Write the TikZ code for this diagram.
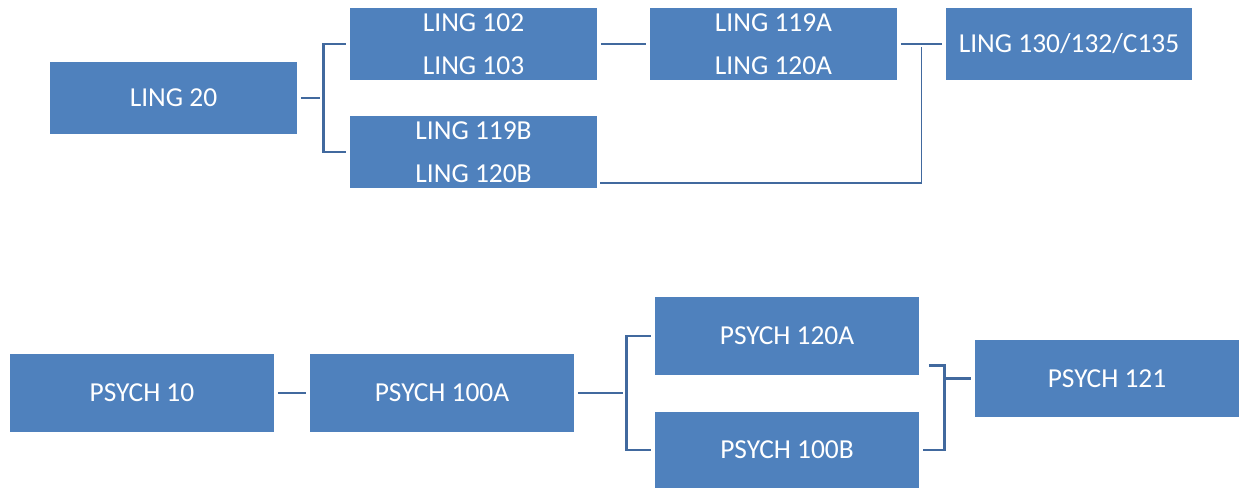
\documentclass[tikz,border=0pt]{standalone}
\usepackage{fontspec}
\setmainfont{Carlito}
\usepackage{xcolor}
\usepackage{tikz}
\usetikzlibrary{positioning,calc}

\definecolor{boxblue}{HTML}{4F81BD}
\definecolor{lineblue}{HTML}{41699E}

\begin{document}
\begin{tikzpicture}[x=0.02cm, y=-0.02cm,
    course/.style={fill=boxblue, text=white, minimum width=4.94cm, minimum height=1.44cm,
        inner sep=0pt, align=center, font=\fontsize{15.6}{24.5}\selectfont},
    psych/.style={course, minimum width=5.28cm, minimum height=1.56cm},
    link/.style={draw=lineblue, line width=1.6pt, shorten <=2pt, shorten >=2pt},
    thinlink/.style={draw=lineblue, line width=1.1pt}]
    \useasboundingbox (0,0) rectangle (1239,488);

    % Linguistics track
    \node[course] (ling20) at (173.5,98) {LING 20};
    \node[course] (ling102) at (473.5,44) {LING 102\\LING 103};
    \node[course] (ling119b) at (473.5,152) {LING 119B\\LING 120B};
    \node[course] (ling119a) at (773.5,44) {LING 119A\\LING 120A};
    \node[course, minimum width=4.92cm] (ling130) at (1069,44) {LING 130/132/C135};

    \draw[link] (ling20.east) -- ++(26,0) coordinate (ja);
    \draw[link, shorten <=0pt] (ja) |- (ling102.west);
    \draw[link, shorten <=0pt] (ja) |- (ling119b.west);
    \draw[link] (ling102.east) -- (ling119a.west);
    \draw[link] (ling119a.east) -- (ling130.west);
    \coordinate (jb) at ($(ling119a.east)!0.5!(ling130.west)$);
    \draw[thinlink] ($(ling119b.south east)+(3,-5)$) -| ($(jb)+(0,3)$);

    % Psychology track
    \node[psych] (psych10) at (142,393) {PSYCH 10};
    \node[psych] (psych100a) at (442,393) {PSYCH 100A};
    \node[psych] (psych120a) at (787,336) {PSYCH 120A};
    \node[psych, minimum height=1.52cm] (psych100b) at (787,450) {PSYCH 100B};
    \node[psych, minimum height=1.54cm] (psych121) at (1107,378.5) {PSYCH 121};

    \draw[link] (psych10.east) -- (psych100a.west);
    \draw[link] (psych100a.east) -- ++(52,0) coordinate (jc);
    \draw[link, shorten <=0pt] (jc) |- (psych120a.west);
    \draw[link, shorten <=0pt] (jc) |- (psych100b.west);
    \coordinate (jd) at ($(psych121.west)+(-30,0)$);
    \draw[link] ($(psych120a.south east)+(6,-10)$) -| (jd) |- (psych100b.east);
    \draw[link, shorten <=0pt] (jd) -- (psych121.west);
\end{tikzpicture}
\end{document}
